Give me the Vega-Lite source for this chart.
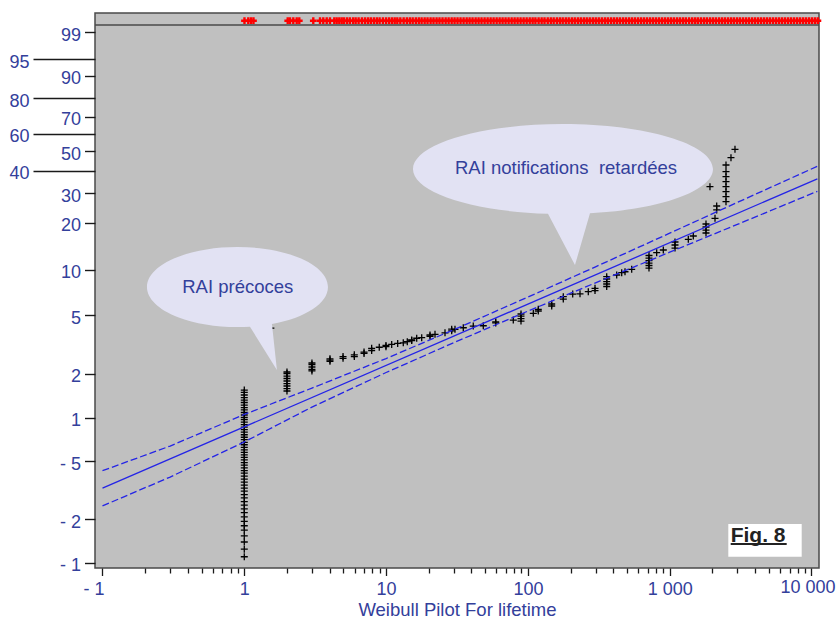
{
  "$schema": "https://vega.github.io/schema/vega-lite/v6.json",
  "width": 724,
  "height": 555,
  "autosize": {"type": "none"},
  "padding": {"left": 95, "top": 13, "right": 18, "bottom": 51},
  "background": "white",
  "config": {
    "view": {"fill": "#c0c0c0", "stroke": "#4a4a4a", "strokeWidth": 1.5},
    "font": "Liberation Sans"
  },
  "datasets": {
    "failures": [
      {"t": 1, "F": 0.110}, {"t": 1, "F": 0.124}, {"t": 1, "F": 0.139}, {"t": 1, "F": 0.153}, {"t": 1, "F": 0.168},
      {"t": 1, "F": 0.180}, {"t": 1, "F": 0.193}, {"t": 1, "F": 0.207}, {"t": 1, "F": 0.222}, {"t": 1, "F": 0.235},
      {"t": 1, "F": 0.250}, {"t": 1, "F": 0.264}, {"t": 1, "F": 0.280}, {"t": 1, "F": 0.295}, {"t": 1, "F": 0.312},
      {"t": 1, "F": 0.327}, {"t": 1, "F": 0.343}, {"t": 1, "F": 0.360}, {"t": 1, "F": 0.377}, {"t": 1, "F": 0.396},
      {"t": 1, "F": 0.415}, {"t": 1, "F": 0.432}, {"t": 1, "F": 0.451}, {"t": 1, "F": 0.471}, {"t": 1, "F": 0.491},
      {"t": 1, "F": 0.512}, {"t": 1, "F": 0.533}, {"t": 1, "F": 0.555}, {"t": 1, "F": 0.577}, {"t": 1, "F": 0.601},
      {"t": 1, "F": 0.625}, {"t": 1, "F": 0.651}, {"t": 1, "F": 0.677}, {"t": 1, "F": 0.705}, {"t": 1, "F": 0.733},
      {"t": 1, "F": 0.763}, {"t": 1, "F": 0.794}, {"t": 1, "F": 0.826}, {"t": 1, "F": 0.860}, {"t": 1, "F": 0.894},
      {"t": 1, "F": 0.931}, {"t": 1, "F": 0.968}, {"t": 1, "F": 1.002}, {"t": 1, "F": 1.043}, {"t": 1, "F": 1.085},
      {"t": 1, "F": 1.129}, {"t": 1, "F": 1.173}, {"t": 1, "F": 1.220}, {"t": 1, "F": 1.270}, {"t": 1, "F": 1.321},
      {"t": 1, "F": 1.374}, {"t": 1, "F": 1.430}, {"t": 1, "F": 1.489}, {"t": 1, "F": 1.547},
      {"t": 1.54, "F": 4.09},
      {"t": 2, "F": 1.523}, {"t": 2, "F": 1.584}, {"t": 2, "F": 1.648}, {"t": 2, "F": 1.714}, {"t": 2, "F": 1.783},
      {"t": 2, "F": 1.855}, {"t": 2, "F": 1.929}, {"t": 2, "F": 2.008}, {"t": 2, "F": 2.055},
      {"t": 3, "F": 2.09}, {"t": 3, "F": 2.137}, {"t": 3, "F": 2.223}, {"t": 3, "F": 2.312}, {"t": 3, "F": 2.368},
      {"t": 4.02, "F": 2.43}, {"t": 4.02, "F": 2.48}, {"t": 4.02, "F": 2.53},
      {"t": 4.97, "F": 2.55}, {"t": 4.97, "F": 2.62},
      {"t": 5.97, "F": 2.62}, {"t": 5.97, "F": 2.69},
      {"t": 6.99, "F": 2.75}, {"t": 6.99, "F": 2.81},
      {"t": 7.91, "F": 2.88}, {"t": 7.91, "F": 2.98},
      {"t": 8.95, "F": 3.03},
      {"t": 9.98, "F": 3.06}, {"t": 9.98, "F": 3.12},
      {"t": 10.95, "F": 3.17}, {"t": 12.07, "F": 3.22}, {"t": 13.22, "F": 3.25}, {"t": 14.11, "F": 3.31},
      {"t": 15.15, "F": 3.37}, {"t": 15.15, "F": 3.40}, {"t": 16.44, "F": 3.49}, {"t": 17.83, "F": 3.52},
      {"t": 20.4, "F": 3.60}, {"t": 20.4, "F": 3.67}, {"t": 22.13, "F": 3.71}, {"t": 26.03, "F": 3.80},
      {"t": 29.01, "F": 3.92}, {"t": 29.01, "F": 4.02}, {"t": 30.61, "F": 4.01}, {"t": 35.03, "F": 4.11},
      {"t": 41.19, "F": 4.22}, {"t": 48.47, "F": 4.24}, {"t": 59.3, "F": 4.43}, {"t": 59.3, "F": 4.51},
      {"t": 78.89, "F": 4.63},
      {"t": 89.41, "F": 4.56}, {"t": 89.41, "F": 4.74}, {"t": 89.41, "F": 4.93}, {"t": 89.41, "F": 5.09},
      {"t": 109.2, "F": 5.14}, {"t": 118.4, "F": 5.33}, {"t": 118.4, "F": 5.47},
      {"t": 147.2, "F": 5.76}, {"t": 147.2, "F": 5.94}, {"t": 177.7, "F": 6.41}, {"t": 177.7, "F": 6.65},
      {"t": 207, "F": 6.92}, {"t": 233.1, "F": 6.95}, {"t": 266.7, "F": 7.18},
      {"t": 297.4, "F": 7.30}, {"t": 297.4, "F": 7.55},
      {"t": 359.5, "F": 7.77}, {"t": 359.5, "F": 8.07}, {"t": 359.5, "F": 8.38}, {"t": 359.5, "F": 8.71}, {"t": 359.5, "F": 9.02},
      {"t": 422.9, "F": 9.25}, {"t": 458.7, "F": 9.58}, {"t": 484, "F": 9.72}, {"t": 539.5, "F": 10.08},
      {"t": 714.5, "F": 10.28}, {"t": 714.5, "F": 10.68}, {"t": 714.5, "F": 11.08}, {"t": 714.5, "F": 11.50},
      {"t": 714.5, "F": 11.94}, {"t": 714.5, "F": 12.40},
      {"t": 809.5, "F": 12.93}, {"t": 901.5, "F": 13.45},
      {"t": 1090, "F": 13.85}, {"t": 1090, "F": 14.48}, {"t": 1090, "F": 15.13},
      {"t": 1353, "F": 15.73}, {"t": 1467, "F": 16.52},
      {"t": 1803, "F": 17.25}, {"t": 1803, "F": 18.00}, {"t": 1803, "F": 18.80}, {"t": 1803, "F": 19.63},
      {"t": 1923, "F": 32.65},
      {"t": 2087, "F": 21.28}, {"t": 2145, "F": 23.91}, {"t": 2145, "F": 25.24},
      {"t": 2495, "F": 26.76}, {"t": 2495, "F": 28.62}, {"t": 2495, "F": 30.59}, {"t": 2495, "F": 32.65},
      {"t": 2495, "F": 34.82}, {"t": 2495, "F": 37.09}, {"t": 2495, "F": 39.46}, {"t": 2495, "F": 42.78},
      {"t": 2705, "F": 46.57}, {"t": 2887, "F": 51.16}
    ],
    "suspensions": [
      {"t": 1.003}, {"t": 1.067}, {"t": 1.115}, {"t": 1.161},
      {"t": 2.024}, {"t": 2.101}, {"t": 2.216}, {"t": 2.342}, {"t": 2.443},
      {"t": 3.066}, {"t": 3.42}, {"t": 3.606}, {"t": 3.812}, {"t": 4.02}, {"t": 4.312}, {"t": 4.483}, {"t": 4.677}, {"t": 4.863}, {"t": 5.048},
      {"t": 5.3}, {"t": 5.55}, {"t": 5.85}, {"t": 6.1}, {"t": 6.4}, {"t": 6.75}, {"t": 7.1}, {"t": 7.45}, {"t": 7.8}, {"t": 8.2},
      {"t": 8.6}, {"t": 9.0}, {"t": 9.5}, {"t": 10}, {"t": 10.5}, {"t": 11}, {"t": 11.5}, {"t": 12}, {"t": 12.6}, {"t": 13.3},
      {"t": 14}, {"t": 14.7}, {"t": 15.4}, {"t": 16.2}, {"t": 17}, {"t": 17.8}, {"t": 18.7}, {"t": 19.6}, {"t": 20.6}, {"t": 21.6},
      {"t": 22.7}, {"t": 23.8}, {"t": 25}, {"t": 26.3}, {"t": 27.6}, {"t": 29}, {"t": 30.4}, {"t": 31.9}, {"t": 33.5}, {"t": 35.2},
      {"t": 37}, {"t": 38.8}, {"t": 40.7}, {"t": 42.8}, {"t": 44.9}, {"t": 47.1}, {"t": 49.5}, {"t": 52}, {"t": 54.6}, {"t": 57.3},
      {"t": 60.2}, {"t": 63.2}, {"t": 66.3}, {"t": 69.6}, {"t": 73.1}, {"t": 76.8}, {"t": 80.6}, {"t": 84.6}, {"t": 88.8}, {"t": 93.3},
      {"t": 98}, {"t": 103}, {"t": 108}, {"t": 113}, {"t": 119}, {"t": 125}, {"t": 131}, {"t": 138}, {"t": 145}, {"t": 152},
      {"t": 160}, {"t": 168}, {"t": 176}, {"t": 185}, {"t": 194}, {"t": 204}, {"t": 214}, {"t": 225}, {"t": 236}, {"t": 248},
      {"t": 260}, {"t": 273}, {"t": 287}, {"t": 301}, {"t": 316}, {"t": 332}, {"t": 349}, {"t": 366}, {"t": 385}, {"t": 404},
      {"t": 424}, {"t": 445}, {"t": 468}, {"t": 491}, {"t": 516}, {"t": 541}, {"t": 568}, {"t": 597}, {"t": 627}, {"t": 658},
      {"t": 691}, {"t": 726}, {"t": 762}, {"t": 800}, {"t": 840}, {"t": 882}, {"t": 926}, {"t": 972}, {"t": 1020}, {"t": 1070},
      {"t": 1125}, {"t": 1180}, {"t": 1240}, {"t": 1300}, {"t": 1370}, {"t": 1440}, {"t": 1510}, {"t": 1580}, {"t": 1660}, {"t": 1745},
      {"t": 1830}, {"t": 1925}, {"t": 2020}, {"t": 2120}, {"t": 2230}, {"t": 2340}, {"t": 2455}, {"t": 2580}, {"t": 2710}, {"t": 2840},
      {"t": 2985}, {"t": 3130}, {"t": 3290}, {"t": 3455}, {"t": 3625}, {"t": 3810}, {"t": 4000}, {"t": 4200}, {"t": 4410}, {"t": 4630},
      {"t": 4860}, {"t": 5100}, {"t": 5360}, {"t": 5630}, {"t": 5910}, {"t": 6200}, {"t": 6510}, {"t": 6840}, {"t": 7180}, {"t": 7540},
      {"t": 7920}, {"t": 8310}, {"t": 8730}, {"t": 9160}, {"t": 9620}, {"t": 10100}, {"t": 10600}, {"t": 11100}
    ],
    "bounds": [
      {"band": "upper", "t": 0.1, "F": 0.4313}, {"band": "upper", "t": 0.3, "F": 0.6378}, {"band": "upper", "t": 1, "F": 1.0515},
      {"band": "upper", "t": 3, "F": 1.5946}, {"band": "upper", "t": 10, "F": 2.5395}, {"band": "upper", "t": 30, "F": 3.9864},
      {"band": "upper", "t": 100, "F": 6.6037}, {"band": "upper", "t": 300, "F": 10.473}, {"band": "upper", "t": 1000, "F": 17.199},
      {"band": "upper", "t": 3000, "F": 26.51}, {"band": "upper", "t": 11000, "F": 42.12},
      {"band": "lower", "t": 0.1, "F": 0.2467}, {"band": "lower", "t": 0.3, "F": 0.3901}, {"band": "lower", "t": 1, "F": 0.6806},
      {"band": "lower", "t": 3, "F": 1.1817}, {"band": "lower", "t": 10, "F": 2.0385}, {"band": "lower", "t": 30, "F": 3.2548},
      {"band": "lower", "t": 100, "F": 5.3218}, {"band": "lower", "t": 300, "F": 8.2193}, {"band": "lower", "t": 1000, "F": 13.019},
      {"band": "lower", "t": 3000, "F": 19.51}, {"band": "lower", "t": 11000, "F": 30.75}
    ],
    "fit": [{"t": 0.1, "F": 0.3268}, {"t": 11000, "F": 36.12}]
  },
  "layer": [
    {
      "data": {"values": [{}]},
      "mark": {"type": "rule", "color": "#4a4a4a", "strokeWidth": 1.5},
      "encoding": {"y": {"datum": 1.6431, "type": "quantitative", "scale": {"domain": [-6.991, 1.834], "nice": false, "zero": false}}}
    },
    {
      "data": {"name": "suspensions"},
      "mark": {"type": "point", "shape": "M -1 0 L 1 0 M 0 -1 L 0 1", "filled": false, "stroke": "#ff0000", "strokeWidth": 2.4, "size": 45, "opacity": 1, "clip": false},
      "encoding": {
        "x": {"field": "t", "type": "quantitative", "scale": {"type": "log", "domain": [0.08855, 11296], "nice": false}},
        "y": {"datum": 1.7115, "type": "quantitative"}
      }
    },
    {
      "data": {"name": "failures"},
      "transform": [{"calculate": "log(-log(1 - datum.F/100))", "as": "w"}],
      "mark": {"type": "point", "shape": "M -1 0 L 1 0 M 0 -1 L 0 1", "filled": false, "stroke": "#000000", "strokeWidth": 1.3, "size": 49, "opacity": 1},
      "encoding": {
        "x": {
          "field": "t", "type": "quantitative",
          "scale": {"type": "log", "domain": [0.08855, 11296], "nice": false},
          "axis": {
            "title": "Weibull Pilot For lifetime",
            "titleFont": "Liberation Sans", "titleFontSize": 18.5, "titleFontWeight": "normal", "titleColor": "#33409b",
            "titleY": 32.5, "titleBaseline": "top",
            "tickCount": 200,
            "values": [0.1,0.2,0.3,0.4,0.5,0.6,0.7,0.8,0.9,1,2,3,4,5,6,7,8,9,10,20,30,40,50,60,70,80,90,100,200,300,400,500,600,700,800,900,1000,2000,3000,4000,5000,6000,7000,8000,9000,10000],
            "labelExpr": "abs(log(datum.value)/LN10 - round(log(datum.value)/LN10)) < 0.01 ? (datum.value < 0.5 ? '- 1' : datum.value > 5000 ? '10 000' : datum.value > 500 ? '1 000' : format(datum.value, 'd')) : ''",
            "tickSize": {"condition": {"test": "abs(log(datum.value)/LN10 - round(log(datum.value)/LN10)) < 0.01", "value": 7.5}, "value": 5},
            "labelOffset": {"condition": [{"test": "datum.value < 0.5", "value": -9}, {"test": "datum.value > 5000", "value": -4}], "value": 0},
            "labelPadding": {"condition": {"test": "datum.value > 5000", "value": 2.6}, "value": 5.2},
            "labelFont": "Liberation Sans", "labelFontSize": 18, "labelColor": "#33409b",
            "tickColor": "#1a1a1a", "tickWidth": 1.3,
            "domain": false, "grid": false, "labelOverlap": false, "labelFlush": false, "labelBound": false
          }
        },
        "y": {
          "field": "w", "type": "quantitative",
          "scale": {"domain": [-6.991, 1.834], "nice": false, "zero": false},
          "axis": {
            "title": null,
            "tickCount": 200,
            "values": [1.52718, 1.09719, 0.834032, 0.475885, 0.185627, -0.087422, -0.366513, -0.671727, -1.03093, -1.49994, -2.250367, -2.970195, -3.901939, -4.600149, -5.295812, -6.213607, -6.907255],
            "labelExpr": "(1-exp(-exp(datum.value)))*100 < 0.99 ? '- ' + round((1-exp(-exp(datum.value)))*1000) : '' + round((1-exp(-exp(datum.value)))*100)",
            "tickSize": {"condition": {"test": "indexof([95,80,60,40], round((1-exp(-exp(datum.value)))*100)) >= 0", "value": 62}, "value": 10.5},
            "labelPadding": 4, "labelOffset": 3,
            "labelFont": "Liberation Sans", "labelFontSize": 18, "labelColor": "#33409b",
            "tickColor": "#1a1a1a", "tickWidth": 1.4,
            "domain": false, "grid": false, "labelOverlap": false, "labelFlush": false, "labelBound": false
          }
        }
      }
    },
    {
      "data": {"name": "bounds"},
      "transform": [{"calculate": "log(-log(1 - datum.F/100))", "as": "w"}],
      "mark": {"type": "line", "color": "#2424e6", "strokeWidth": 1.3, "strokeDash": [7, 3]},
      "encoding": {
        "x": {"field": "t", "type": "quantitative"},
        "y": {"field": "w", "type": "quantitative"},
        "detail": {"field": "band"}
      }
    },
    {
      "data": {"name": "fit"},
      "transform": [{"calculate": "log(-log(1 - datum.F/100))", "as": "w"}],
      "mark": {"type": "line", "color": "#2424e6", "strokeWidth": 1.3},
      "encoding": {
        "x": {"field": "t", "type": "quantitative"},
        "y": {"field": "w", "type": "quantitative"}
      }
    },
    {
      "data": {"values": [{"t": 0.895, "F": 7.709}]},
      "transform": [{"calculate": "log(-log(1 - datum.F/100))", "as": "w"}],
      "mark": {"type": "point", "shape": "M -1 0 A 1 0.442 0 0 1 1 0 A 1 0.442 0 0 1 0.381 0.4087 L 0.436 0.917 L 0.138 0.4378 A 1 0.442 0 0 1 -1 0 Z", "filled": true, "fill": "#e2e2f3", "strokeWidth": 0, "size": 32761, "opacity": 1},
      "encoding": {
        "x": {"field": "t", "type": "quantitative"},
        "y": {"field": "w", "type": "quantitative"}
      }
    },
    {
      "data": {"values": [{"t": 176.8, "F": 40.77}]},
      "transform": [{"calculate": "log(-log(1 - datum.F/100))", "as": "w"}],
      "mark": {"type": "point", "shape": "M -1 0 A 1 0.3 0 0 1 1 0 A 1 0.3 0 0 1 0.18 0.2951 L 0.08 0.64 L -0.1 0.2985 A 1 0.3 0 0 1 -1 0 Z", "filled": true, "fill": "#e2e2f3", "strokeWidth": 0, "size": 90000, "opacity": 1},
      "encoding": {
        "x": {"field": "t", "type": "quantitative"},
        "y": {"field": "w", "type": "quantitative"}
      }
    },
    {
      "data": {"values": [
        {"t": 0.899, "F": 7.709, "label": "RAI précoces"},
        {"t": 185.6, "F": 41.27, "label": "RAI notifications\u00a0 retardées"}
      ]},
      "transform": [{"calculate": "log(-log(1 - datum.F/100))", "as": "w"}],
      "mark": {"type": "text", "font": "Liberation Sans", "fontSize": 18.5, "color": "#33409b", "align": "center", "baseline": "middle"},
      "encoding": {
        "x": {"field": "t", "type": "quantitative"},
        "y": {"field": "w", "type": "quantitative"},
        "text": {"field": "label"}
      }
    },
    {
      "data": {"values": [{"t": 2590, "t2": 8530, "F": 0.1851, "F2": 0.1100}]},
      "transform": [
        {"calculate": "log(-log(1 - datum.F/100))", "as": "w"},
        {"calculate": "log(-log(1 - datum.F2/100))", "as": "w2"}
      ],
      "mark": {"type": "rect", "fill": "#ffffff", "strokeWidth": 0},
      "encoding": {
        "x": {"field": "t", "type": "quantitative"},
        "x2": {"field": "t2"},
        "y": {"field": "w", "type": "quantitative"},
        "y2": {"field": "w2"}
      }
    },
    {
      "data": {"values": [{"t": 2693, "t2": 6685, "F": 0.1346}]},
      "transform": [{"calculate": "log(-log(1 - datum.F/100))", "as": "w"}],
      "mark": {"type": "rule", "color": "#222222", "strokeWidth": 2},
      "encoding": {
        "x": {"field": "t", "type": "quantitative"},
        "x2": {"field": "t2"},
        "y": {"field": "w", "type": "quantitative"}
      }
    },
    {
      "data": {"values": [{"t": 2693, "F": 0.1396, "label": "Fig. 8"}]},
      "transform": [{"calculate": "log(-log(1 - datum.F/100))", "as": "w"}],
      "mark": {"type": "text", "font": "Liberation Sans", "fontSize": 21, "fontWeight": "bold", "color": "#222222", "align": "left", "baseline": "alphabetic"},
      "encoding": {
        "x": {"field": "t", "type": "quantitative"},
        "y": {"field": "w", "type": "quantitative"},
        "text": {"field": "label"}
      }
    }
  ]
}
